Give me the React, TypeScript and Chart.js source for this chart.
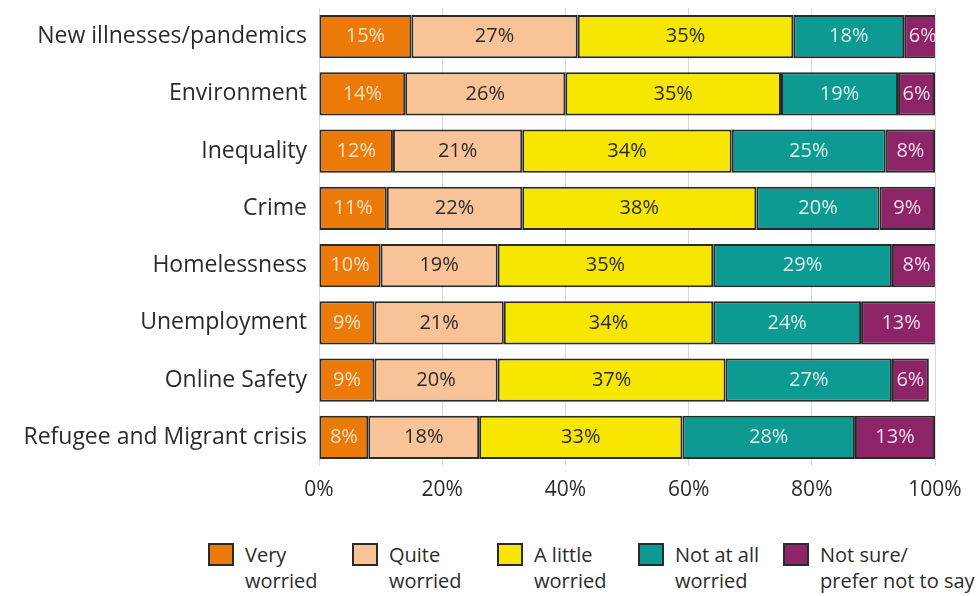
import React, { useEffect, useRef } from "react";
import { Chart, registerables } from "chart.js";

Chart.register(...registerables);

const categories = [
  "New illnesses/pandemics",
  "Environment",
  "Inequality",
  "Crime",
  "Homelessness",
  "Unemployment",
  "Online Safety",
  "Refugee and Migrant crisis",
];

const veryWorried = [15, 14, 12, 11, 10, 9, 9, 8];
const quiteWorried = [27, 26, 21, 22, 19, 21, 20, 18];
const aLittleWorried = [35, 35, 34, 38, 35, 34, 37, 33];
const notAtAllWorried = [18, 19, 25, 20, 29, 24, 27, 28];
const notSure = [6, 6, 8, 9, 8, 13, 6, 13];

const seriesLabels = [
  ["Very", "worried"],
  ["Quite", "worried"],
  ["A little", "worried"],
  ["Not at all", "worried"],
  ["Not sure/", "prefer not to say"],
];

const xTicks = [0, 20, 40, 60, 80, 100];

const COLORS = ["#EC7A08", "#F8C396", "#F6E600", "#0C9A92", "#8E2468"];
const LABEL_COLORS = ["#FCE3C8", "#2b2b2b", "#2b2b2b", "#DDF2EF", "#F3DDEB"];
const FONT = "'Open Sans', sans-serif";

const labelPlugin = {
  id: "segLabels",
  afterDatasetsDraw(chart: any) {
    const ctx = chart.ctx;
    ctx.save();
    ctx.font = `20px ${FONT}`;
    ctx.textAlign = "center";
    ctx.textBaseline = "middle";
    chart.data.datasets.forEach((ds: any, di: number) => {
      const meta = chart.getDatasetMeta(di);
      meta.data.forEach((bar: any, i: number) => {
        const v = ds.data[i];
        const x = (bar.x + bar.base) / 2;
        ctx.fillStyle = LABEL_COLORS[di];
        ctx.fillText(`${v}%`, x, bar.y);
      });
    });
    ctx.restore();
  },
};

export default function App() {
  const ref = useRef<HTMLCanvasElement | null>(null);

  useEffect(() => {
    if (!ref.current) return;
    const series = [veryWorried, quiteWorried, aLittleWorried, notAtAllWorried, notSure];
    const chart = new Chart(ref.current, {
      type: "bar",
      data: {
        labels: categories,
        datasets: series.map((d, i) => ({
          label: seriesLabels[i].join(" "),
          data: d,
          backgroundColor: COLORS[i],
          borderColor: "#2a2a2a",
          borderWidth: 2,
          borderSkipped: false,
          barPercentage: 0.94,
          categoryPercentage: 0.8,
        })),
      },
      options: {
        indexAxis: "y",
        animation: false,
        responsive: false,
        maintainAspectRatio: false,
        layout: { padding: { top: 8, right: 44, left: 0, bottom: 0 } },
        plugins: {
          legend: { display: false },
          tooltip: { enabled: false },
        },
        scales: {
          x: {
            stacked: true,
            min: 0,
            max: 100,
            afterBuildTicks: (scale: any) => {
              scale.ticks = xTicks.map((v) => ({ value: v }));
            },
            afterFit: (scale: any) => {
              scale.height = 44;
              scale.paddingLeft = 0;
              scale.paddingRight = 0;
            },
            ticks: {
              callback: (v: any) => `${v}%`,
              color: "#2b2b2b",
              font: { family: FONT, size: 21 },
              padding: 11,
              maxRotation: 0,
            },
            grid: { color: "#d9d9d9", lineWidth: 1, drawTicks: false },
            border: { display: false },
          },
          y: {
            stacked: true,
            afterFit: (scale: any) => {
              scale.width = 319;
              scale.paddingTop = 0;
              scale.paddingBottom = 0;
            },
            ticks: {
              color: "#2b2b2b",
              font: { family: FONT, size: 23 },
              padding: 4,
            },
            grid: { display: false },
            border: { display: false },
          },
        },
      },
      plugins: [labelPlugin],
    });
    return () => chart.destroy();
  }, []);

  return (
    <div style={{ position: "absolute", left: 0, top: 0, width: 979, height: 596, background: "#fff", overflow: "hidden" }}>
      <canvas ref={ref} width={979} height={510} style={{ display: "block" }} />
      {seriesLabels.map((lab, i) => (
        <div
          key={i}
          style={{
            position: "absolute",
            left: [208, 352, 497, 638, 783][i],
            top: 542,
            display: "flex",
            alignItems: "flex-start",
            fontFamily: FONT,
            fontSize: 20,
            color: "#2b2b2b",
            lineHeight: "26px",
            whiteSpace: "nowrap",
          }}
        >
          <div
            style={{
              width: 26,
              height: 23,
              background: COLORS[i],
              border: "2px solid #2a2a2a",
              boxSizing: "border-box",
              marginTop: 1,
              marginRight: 11,
            }}
          />
          <div>
            <div>{lab[0]}</div>
            <div>{lab[1]}</div>
          </div>
        </div>
      ))}
    </div>
  );
}
